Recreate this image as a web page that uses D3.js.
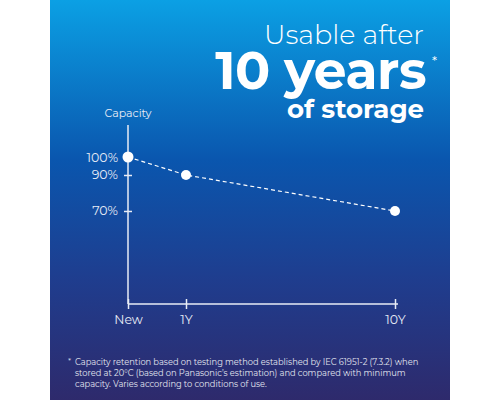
<!DOCTYPE html>
<html>
<head>
<meta charset="utf-8">
<script src="https://cdn.jsdelivr.net/npm/d3@7"></script>
<style>
  body { margin: 0; background: #fff; }
  svg { display: block; font-family: "Montserrat", "Lato", "Noto Sans", sans-serif; }
</style>
</head>
<body>
<svg id="chart"></svg>
<script>
// capacity retention over storage time
const categories = ["New", "1Y", "10Y"];
const years = [0, 1, 10];
const capacity = [100, 90, 70];
const yTicks = [100, 90, 70];
const footnote = [
    "Capacity retention based on testing method established by IEC 61951-2 (7.3.2) when",
    "stored at 20°C (based on Panasonic’s estimation) and compared with minimum",
    "capacity. Varies according to conditions of use."
];

const width = 500, height = 400;
const svg = d3.select("#chart").attr("width", width).attr("height", height);

// background gradient panel
const grad = svg.append("defs").append("linearGradient")
    .attr("id", "bg").attr("x1", 0).attr("y1", 0).attr("x2", 0).attr("y2", 1);
grad.append("stop").attr("offset", "0%").attr("stop-color", "#0ba0e4");
grad.append("stop").attr("offset", "40%").attr("stop-color", "#0a56ae");
grad.append("stop").attr("offset", "70%").attr("stop-color", "#1f3d8e");
grad.append("stop").attr("offset", "100%").attr("stop-color", "#2e2a6c");
svg.append("rect").attr("x", 50).attr("y", 0).attr("width", 400).attr("height", 400)
    .attr("fill", "url(#bg)");

// title
const title = svg.append("g").attr("fill", "#fff").attr("text-anchor", "end");
title.append("text").attr("x", 424).attr("y", 44).attr("font-size", 27).attr("font-weight", 300)
    .text("Usable after");
title.append("text").attr("x", 426).attr("y", 89).attr("font-size", 52).attr("font-weight", 700)
    .attr("letter-spacing", -0.5).text("10 years");
title.append("text").attr("x", 437).attr("y", 66).attr("font-size", 13).text("*");
title.append("text").attr("x", 424).attr("y", 118).attr("font-size", 26).attr("font-weight", 700)
    .text("of storage");

// scales
const x = d3.scaleLinear().domain([0, 1, 10]).range([128, 186, 395]);
const y = d3.scaleLinear().domain([18.3, 100]).range([304, 157]);

const axisColor = "#e8ecf6";

const xAxis = svg.append("g")
    .attr("transform", `translate(0,304)`)
    .call(d3.axisBottom(x).tickValues(years).tickFormat((d, i) => categories[i])
        .tickSize(5).tickSizeOuter(0).tickPadding(6));
xAxis.select(".domain").attr("d", "M128,0H398");
xAxis.selectAll(".tick line").attr("y1", -5).attr("y2", 5);

const yAxis = svg.append("g")
    .attr("transform", `translate(128,0)`)
    .call(d3.axisLeft(y).tickValues(yTicks).tickFormat(d => d + "%")
        .tickSize(4).tickSizeOuter(0).tickPadding(6));
yAxis.select(".domain").attr("d", "M0,125V304");
yAxis.selectAll(".tick line").attr("x1", -4).attr("x2", 4);

svg.selectAll(".domain, .tick line").attr("stroke", axisColor).attr("stroke-width", 1.5);
svg.selectAll(".tick text").attr("fill", axisColor).attr("font-size", 12.5)
    .attr("font-family", "Montserrat, Lato, 'Noto Sans', sans-serif");

svg.append("text").attr("x", 128).attr("y", 117).attr("text-anchor", "middle")
    .attr("fill", axisColor).attr("font-size", 11).text("Capacity");

// dashed line + points
const line = d3.line().x((d, i) => x(years[i])).y(d => y(d));
svg.append("path").datum(capacity)
    .attr("fill", "none").attr("stroke", "#fff").attr("stroke-width", 1.2)
    .attr("stroke-dasharray", "4,3").attr("d", line);

svg.selectAll(".pt").data(capacity).enter().append("circle")
    .attr("cx", (d, i) => x(years[i])).attr("cy", d => y(d))
    .attr("r", (d, i) => i === 0 ? 5.5 : 5).attr("fill", "#fff");

// footnote
const fn = svg.append("text").attr("fill", "#e4e6f0").attr("font-size", 8.3);
footnote.forEach((t, i) => {
    fn.append("tspan").attr("x", 75).attr("y", 365 + i * 11).text(t);
});
svg.append("text").attr("x", 68).attr("y", 364).attr("fill", "#e4e6f0").attr("font-size", 8).text("*");
</script>
</body>
</html>
